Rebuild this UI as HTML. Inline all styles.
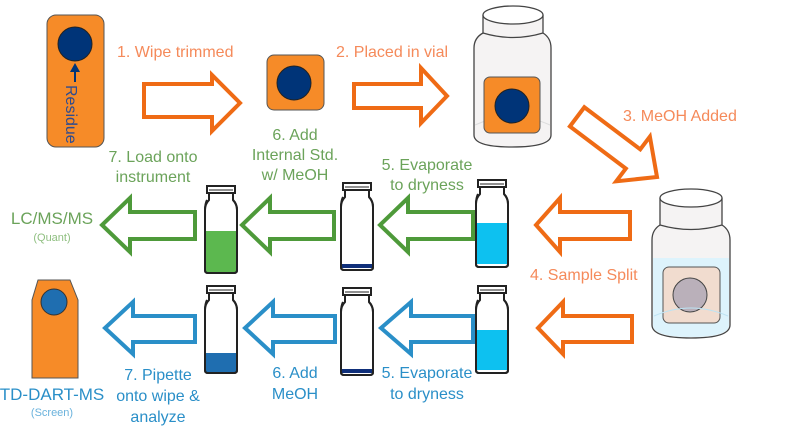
<!DOCTYPE html>
<html><head><meta charset="utf-8"><style>
html,body{margin:0;padding:0;background:#fff;width:800px;height:430px;overflow:hidden}
svg{display:block}
text{font-family:"Liberation Sans",sans-serif}
</style></head><body>
<svg width="800" height="430" viewBox="0 0 800 430" xmlns="http://www.w3.org/2000/svg">
<defs>
<g id="vial">
  <path d="M2,7 L2,14 Q-2,18 -2,24 L-2,84 Q-2,87 1,87 L27,87 Q30,87 30,84 L30,24 Q30,18 26,14 L26,7" fill="#fff" stroke="#222" stroke-width="2"/>
  <rect x="0" y="0" width="28" height="7" fill="#fff" stroke="#222" stroke-width="2"/>
  <line x1="2" y1="4" x2="26" y2="4" stroke="#222" stroke-width="1"/>
</g>
</defs>

<!-- wipe -->
<rect x="47" y="15" width="57" height="132" rx="9" fill="#F68B28" stroke="#555" stroke-width="1"/>
<circle cx="75" cy="44" r="17" fill="#003478" stroke="#222" stroke-width="1"/>
<path d="M75,63 L70,72 L74,72 L74,82 L76,82 L76,72 L80,72 Z" fill="#003478"/>
<text transform="translate(66,85) rotate(90)" font-size="16" fill="#2F4C8F">Residue</text>

<text x="117" y="57" font-size="16" fill="#F58A5A">1. Wipe trimmed</text>
<path d="M144,84 L212,84 L212,75 L240,103 L212,131 L212,117 L144,117 Z" fill="#fff" stroke="#EF6B15" stroke-width="4"/>

<rect x="267" y="55" width="57" height="55" rx="7" fill="#F68B28" stroke="#555" stroke-width="1"/>
<circle cx="294" cy="83" r="17" fill="#003478" stroke="#222" stroke-width="1"/>

<text x="336" y="57" font-size="16" fill="#F58A5A">2. Placed in vial</text>
<path d="M354,84 L421,84 L421,68 L447,96 L421,123 L421,108 L354,108 Z" fill="#fff" stroke="#EF6B15" stroke-width="4"/>

<!-- vial 1 -->
<path d="M483,15 L483,33 Q474,38 474,48 L474,135 Q474,147 512,147 Q551,147 551,135 L551,48 Q551,38 543,33 L543,15" fill="#F5F3F3" stroke="#444" stroke-width="1.3"/>
<ellipse cx="513" cy="15" rx="30" ry="9" fill="#fff" stroke="#444" stroke-width="1.3"/>
<path d="M483,33 Q513,42 543,33" fill="none" stroke="#444" stroke-width="1.2"/>
<path d="M475,125 Q512,108 550,125" fill="none" stroke="#ddd" stroke-width="1"/>
<rect x="484" y="77" width="56" height="56" rx="6" fill="#F68B28" stroke="#555" stroke-width="1"/>
<circle cx="512" cy="106" r="17" fill="#003478" stroke="#222" stroke-width="1"/>

<text x="623" y="121" font-size="16" fill="#F58A5A">3. MeOH Added</text>
<g transform="translate(657,177) rotate(37)">
<path d="M-100,-12 L-30,-12 L-30,-28 L0,0 L-30,28 L-30,12 L-100,12 Z" fill="#fff" stroke="#EF6B15" stroke-width="4"/>
</g>

<!-- vial 2 -->
<path d="M660,198 L660,225 Q652,230 652,240 L652,325 Q652,338 691,338 Q730,338 730,325 L730,240 Q730,230 722,225 L722,198" fill="#F5F3F3" stroke="#444" stroke-width="1.3"/>
<path d="M653,258 L729,258 L729,325 Q729,337 691,337 Q653,337 653,325 Z" fill="#DDF3FC"/>
<ellipse cx="691" cy="198" rx="31" ry="9" fill="#fff" stroke="#444" stroke-width="1.3"/>
<path d="M660,225 Q691,234 722,225" fill="none" stroke="#444" stroke-width="1.2"/>
<rect x="663" y="267" width="57" height="56" rx="6" fill="#F1DCCF" stroke="#555" stroke-width="1"/>
<circle cx="690" cy="295" r="17" fill="#BAB0BA" stroke="#444" stroke-width="1"/>
<path d="M654,316 Q691,300 728,316" fill="none" stroke="#bde3f3" stroke-width="1"/>

<text x="530" y="280" font-size="16" fill="#F58A5A">4. Sample Split</text>
<path d="M630,212 L560,212 L560,198 L536,225 L560,252 L560,239 L630,239 Z" fill="#fff" stroke="#EF6B15" stroke-width="4"/>
<path d="M632,316 L563,316 L563,302 L538,328 L563,354 L563,342 L632,342 Z" fill="#fff" stroke="#EF6B15" stroke-width="4"/>

<!-- top row vials -->
<use href="#vial" x="478" y="180"/>
<rect x="477" y="223" width="30" height="41" fill="#0DC1F0"/>
<use href="#vial" x="343" y="183"/>
<rect x="342" y="264" width="30" height="4" fill="#0F2F7A"/>
<use href="#vial" x="207" y="186"/>
<rect x="206" y="231" width="30" height="41" fill="#5CB84F"/>
<!-- re-stroke outlines over fills -->
<g fill="none" stroke="#222" stroke-width="2">
<path d="M478,194 Q476,198 476,204 L476,264 Q476,267 479,267 L505,267 Q508,267 508,264 L508,204 Q508,198 504,194"/>
<path d="M343,197 Q341,201 341,207 L341,267 Q341,270 344,270 L370,270 Q373,270 373,267 L373,207 Q373,201 369,197"/>
<path d="M207,200 Q205,204 205,210 L205,270 Q205,273 208,273 L234,273 Q237,273 237,270 L237,210 Q237,204 233,200"/>
</g>

<!-- bottom row vials -->
<use href="#vial" x="478" y="286"/>
<rect x="477" y="330" width="30" height="40" fill="#0DC1F0"/>
<use href="#vial" x="343" y="288"/>
<rect x="342" y="369" width="30" height="4" fill="#0F2F7A"/>
<use href="#vial" x="207" y="286"/>
<rect x="206" y="353" width="30" height="19" fill="#1F6EB0"/>
<g fill="none" stroke="#222" stroke-width="2">
<path d="M478,300 Q476,304 476,310 L476,370 Q476,373 479,373 L505,373 Q508,373 508,370 L508,310 Q508,304 504,300"/>
<path d="M343,302 Q341,306 341,312 L341,372 Q341,375 344,375 L370,375 Q373,375 373,372 L373,312 Q373,306 369,302"/>
<path d="M207,300 Q205,304 205,310 L205,370 Q205,373 208,373 L234,373 Q237,373 237,370 L237,310 Q237,304 233,300"/>
</g>

<!-- green arrows -->
<g fill="#fff" stroke="#4E9A3A" stroke-width="4">
<path d="M195,212 L130,212 L130,198 L102,225 L130,252 L130,239 L195,239 Z"/>
<path d="M334,212 L270,212 L270,198 L242,225 L270,252 L270,239 L334,239 Z"/>
<path d="M473,212 L408,212 L408,198 L380,225 L408,252 L408,239 L473,239 Z"/>
</g>
<!-- blue arrows -->
<g fill="#fff" stroke="#2A8FC8" stroke-width="4">
<path d="M195,316 L133,316 L133,302 L105,328 L133,354 L133,342 L195,342 Z"/>
<path d="M335,316 L273,316 L273,302 L245,328 L273,354 L273,342 L335,342 Z"/>
<path d="M473,316 L411,316 L411,302 L381,328 L411,354 L411,342 L473,342 Z"/>
</g>

<g font-size="16" fill="#6BA35A" text-anchor="middle">
<text x="153" y="162">7. Load onto</text>
<text x="153" y="182">instrument</text>
<text x="295" y="140">6. Add</text>
<text x="295" y="160">Internal Std.</text>
<text x="295" y="180">w/ MeOH</text>
<text x="427" y="170">5. Evaporate</text>
<text x="427" y="190">to dryness</text>
<text x="52" y="224" font-size="17">LC/MS/MS</text>
<text x="52" y="241" font-size="11" fill="#8FBF80">(Quant)</text>
</g>

<!-- TD wipe -->
<path d="M38,280 L70,280 L78,300 L78,378 L32,378 L32,300 Z" fill="#F68B28" stroke="#555" stroke-width="1"/>
<circle cx="54" cy="302" r="13" fill="#1F6EB0" stroke="#333" stroke-width="1"/>

<g font-size="16" fill="#2A8FC8" text-anchor="middle">
<text x="52" y="400" font-size="17">TD-DART-MS</text>
<text x="52" y="416" font-size="11" fill="#6AB2DC">(Screen)</text>
<text x="158" y="380">7. Pipette</text>
<text x="158" y="401">onto wipe &amp;</text>
<text x="158" y="422">analyze</text>
<text x="295" y="378">6. Add</text>
<text x="295" y="399">MeOH</text>
<text x="427" y="378">5. Evaporate</text>
<text x="427" y="399">to dryness</text>
</g>
</svg>
</body></html>
